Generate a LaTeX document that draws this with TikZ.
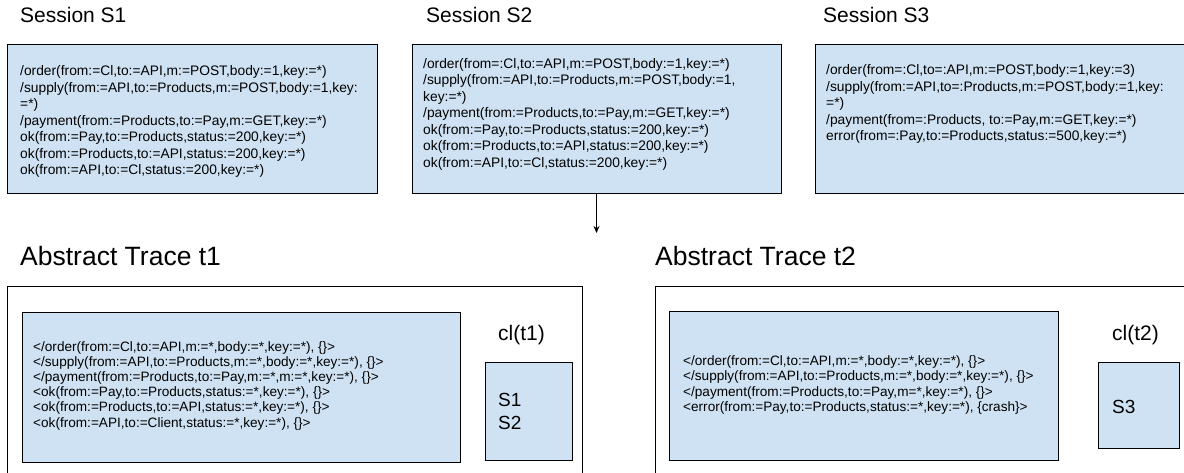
\documentclass[tikz,border=0pt]{standalone}
\usepackage{fontspec}
\setmainfont{Liberation Sans}
\usetikzlibrary{arrows.meta}
\definecolor{boxblue}{HTML}{CFE2F3}

\begin{document}
\begin{tikzpicture}[x=1pt,y=-1pt,
  panel/.style={draw=black, line width=1pt, fill=boxblue, rectangle,
    inner sep=0pt, outer sep=0pt, anchor=north west},
  frame/.style={draw=black, line width=1pt, rectangle,
    inner sep=0pt, outer sep=0pt, anchor=north west},
  heading/.style={anchor=west, inner sep=0pt, font=\fontsize{21}{25}\selectfont},
  bigheading/.style={anchor=west, inner sep=0pt, font=\fontsize{26.5}{30}\selectfont},
  code/.style={anchor=west, align=left, inner sep=0pt,
    font=\fontsize{13.8}{16.5}\selectfont},
  tracecode/.style={anchor=west, align=left, inner sep=0pt,
    font=\fontsize{13.6}{15.2}\selectfont},
  cllabel/.style={anchor=west, inner sep=0pt, font=\fontsize{21}{25}\selectfont},
  members/.style={anchor=west, align=left, inner sep=0pt,
    font=\fontsize{19}{23}\selectfont},
]
\useasboundingbox (0,0) rectangle (1184,473);
\clip (0,0) rectangle (1184,473);

% --- concrete sessions ---
\node[heading] (h1) at (20,15) {Session S1};
\node[heading] (h2) at (426,15) {Session S2};
\node[heading] (h3) at (823,15) {Session S3};

\node[panel, minimum width=370pt, minimum height=149pt] (s1) at (7,45) {};
\node[panel, minimum width=369pt, minimum height=149pt] (s2) at (412,45) {};
\node[panel, minimum width=369pt, minimum height=149pt] (s3) at (815,45) {};

\node[code] (s1text) at (20,121.5) {%
/order(from:=Cl,to:=API,m:=POST,body:=1,key:=*)\\
/supply(from:=API,to:=Products,m:=POST,body:=1,key:\\
=*)\\
/payment(from:=Products,to:=Pay,m:=GET,key:=*)\\
ok(from:=Pay,to:=Products,status:=200,key:=*)\\
ok(from:=Products,to:=API,status:=200,key:=*)\\
ok(from:=API,to:=Cl,status:=200,key:=*)};

\node[code] (s2text) at (423,114) {%
/order(from=:Cl,to:=API,m:=POST,body:=1,key:=*)\\
/supply(from:=API,to:=Products,m:=POST,body:=1,\\
key:=*)\\
/payment(from:=Products,to:=Pay,m:=GET,key:=*)\\
ok(from:=Pay,to:=Products,status:=200,key:=*)\\
ok(from:=Products,to:=API,status:=200,key:=*)\\
ok(from:=API,to:=Cl,status:=200,key:=*)};

\node[code] (s3text) at (826,104) {%
/order(from=:Cl,to=:API,m:=POST,body:=1,key:=3)\\
/supply(from:=API,to=:Products,m:=POST,body:=1,key:\\
=*)\\
/payment(from=:Products, to:=Pay,m:=GET,key:=*)\\
error(from=:Pay,to:=Products,status:=500,key:=*)};

% --- abstraction step ---
\coordinate (abstr) at (596.5,233);
\draw[line width=1pt, -{Stealth[length=7pt,width=6pt]}] (s2.south) -- (abstr);

% --- abstract traces ---
\node[bigheading] (ht1) at (20,256) {Abstract Trace t1};
\node[bigheading] (ht2) at (655,256) {Abstract Trace t2};

\node[frame, minimum width=575pt, minimum height=220pt] (t1) at (7,287) {};
\node[frame, minimum width=560pt, minimum height=220pt] (t2) at (655,287) {};

\node[panel, minimum width=438pt, minimum height=150pt] (t1in) at (22,312) {};
\node[panel, minimum width=389pt, minimum height=149pt] (t2in) at (669,311) {};

\node[tracecode] (t1text) at (33,385.5) {%
</order(from:=Cl,to:=API,m:=*,body:=*,key:=*), \{\}>\\
</supply(from:=API,to:=Products,m:=*,body:=*,key:=*), \{\}>\\
</payment(from:=Products,to:=Pay,m:=*,m:=*,key:=*), \{\}>\\
<ok(from:=Pay,to:=Products,status:=*,key:=*), \{\}>\\
<ok(from:=Products,to:=API,status:=*,key:=*), \{\}>\\
<ok(from:=API,to:=Client,status:=*,key:=*), \{\}>};

\node[tracecode] (t2text) at (683,385) {%
</order(from:=Cl,to:=API,m:=*,body:=*,key:=*), \{\}>\\
</supply(from:=API,to:=Products,m:=*,body:=*,key:=*), \{\}>\\
</payment(from:=Products,to:=Pay,m=*,key:=*), \{\}>\\
<error(from:=Pay,to:=Products,status:=*,key:=*), \{crash\}>};

% --- session classes ---
\node[cllabel] (cl1) at (498,335) {cl(t1)};
\node[cllabel] (cl2) at (1112,335) {cl(t2)};

\node[panel, minimum width=87pt, minimum height=98pt] (c1) at (485,362) {};
\node[panel, minimum width=81pt, minimum height=86pt] (c2) at (1098,362) {};

\node[members] (c1text) at (498,411.5) {S1\\S2};
\node[members] (c2text) at (1112,407) {S3};
\end{tikzpicture}
\end{document}
